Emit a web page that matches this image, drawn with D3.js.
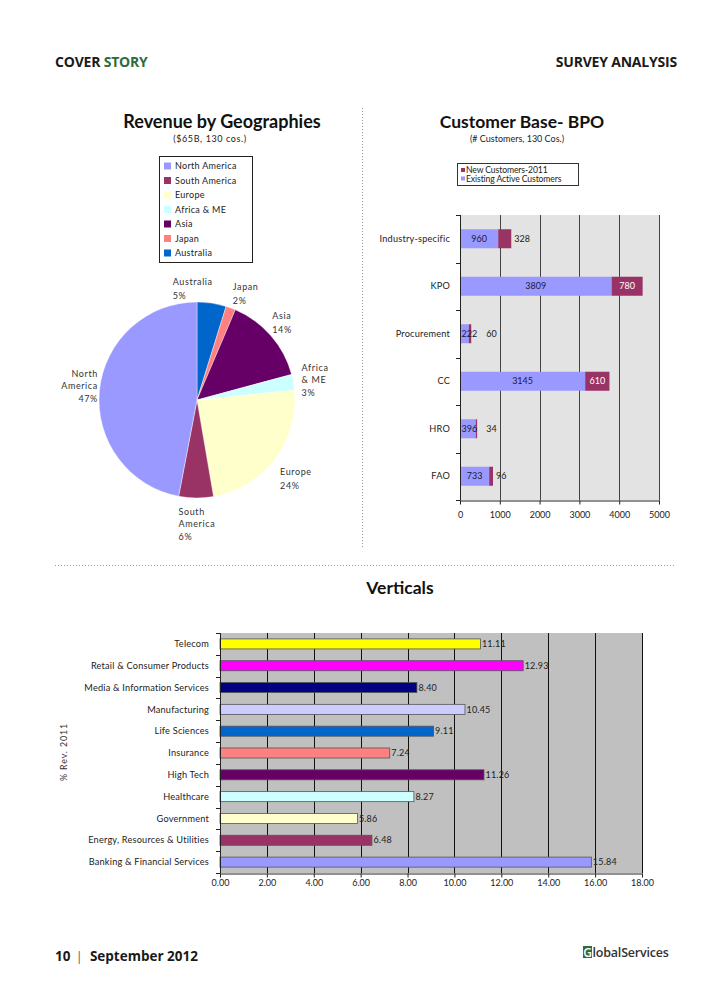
<!DOCTYPE html>
<html><head><meta charset="utf-8">
<script src="https://cdn.jsdelivr.net/npm/d3@7"></script>
<style>
body{margin:0;background:#fff}
svg{display:block}
text{font-family:Lato,"Open Sans",sans-serif;fill:#222}
</style>
</head><body>
<svg id="c" width="728" height="988"></svg>
<script>
// ---------- DATA ----------
const geoRegions = ["North America","South America","Europe","Africa & ME","Asia","Japan","Australia"];
const geoColors  = ["#9999ff","#993366","#ffffcc","#ccffff","#660066","#ff8080","#0066cc"];
const pieOrder   = ["Australia","Japan","Asia","Africa & ME","Europe","South America","North America"];
const pieShares  = [4.8, 1.6, 14.4, 2.6, 23.9, 5.7, 47.0];
const pieLabelLines = [["Australia"],["Japan"],["Asia"],["Africa","& ME"],["Europe"],["South","America"],["North","America"]];

const bpoCategories = ["Industry-specific","KPO","Procurement","CC","HRO","FAO"];
const bpoExisting   = [960, 3809, 222, 3145, 396, 733];
const bpoNew        = [328, 780, 60, 610, 34, 96];
const bpoTicks      = [0, 1000, 2000, 3000, 4000, 5000];
const bpoSeries     = ["New Customers-2011","Existing Active Customers"];

const verticals = ["Telecom","Retail & Consumer Products","Media & Information Services","Manufacturing","Life Sciences","Insurance","High Tech","Healthcare","Government","Energy, Resources & Utilities","Banking & Financial Services"];
const verticalShares = [11.11, 12.93, 8.40, 10.45, 9.11, 7.24, 11.26, 8.27, 5.86, 6.48, 15.84];
const verticalColors = ["#ffff00","#ff00ff","#000080","#ccccff","#0066cc","#ff8080","#660066","#ccffff","#ffffcc","#993366","#9999ff"];
const verticalTicks = [0, 2, 4, 6, 8, 10, 12, 14, 16, 18];

// ---------- DRAW ----------
const svg = d3.select("#c");
const hf = "'Open Sans',Lato,sans-serif";

// header
const h1 = svg.append("text").attr("x",55).attr("y",67).style("font-family",hf).style("font-weight",700).style("font-size","14px").style("letter-spacing","-0.2px");
h1.append("tspan").text("COVER ").style("fill","#1a1a1a");
h1.append("tspan").text("STORY").style("fill","#2f6b3c");
svg.append("text").attr("x",677).attr("y",67).attr("text-anchor","end").style("font-family",hf).style("font-weight",700).style("font-size","14px").style("letter-spacing","-0.2px").style("fill","#1a1a1a").text("SURVEY ANALYSIS");

// separators
svg.append("line").attr("x1",362.5).attr("x2",362.5).attr("y1",108).attr("y2",548).attr("stroke","#999").attr("stroke-dasharray","1,2");
svg.append("line").attr("x1",55).attr("x2",675).attr("y1",565.5).attr("y2",565.5).attr("stroke","#999").attr("stroke-dasharray","1,2");

// ---------- PIE ----------
svg.append("text").attr("x",222).attr("y",128).attr("text-anchor","middle").style("font-weight",700).style("font-size","18px").style("fill","#111").text("Revenue by Geographies");
svg.append("text").attr("x",210).attr("y",142).attr("text-anchor","middle").style("font-size","9px").style("letter-spacing","0.6px").text("($65B, 130 cos.)");

const color = d3.scaleOrdinal().domain(geoRegions).range(geoColors);
const lg = svg.append("g");
lg.append("rect").attr("x",159.5).attr("y",156.5).attr("width",93).attr("height",106).attr("fill","#fff").attr("stroke","#222");
geoRegions.forEach((r,i)=>{
  const yy = 166 + i*14.5;
  lg.append("rect").attr("x",164).attr("y",yy-3.5).attr("width",7).attr("height",7).attr("fill",color(r));
  lg.append("text").attr("x",175).attr("y",yy).attr("dy","0.35em").style("font-size","9px").style("letter-spacing","0.3px").text(r);
});

const cx = 197, cy = 400, R = 98;
const pieData = pieOrder.map((n,i)=>({name:n, value:pieShares[i], lines:pieLabelLines[i]}));
const arcs = d3.pie().sort(null).value(d=>d.value)(pieData);
const arc = d3.arc().innerRadius(0).outerRadius(R);
const labelArc = d3.arc().innerRadius(118).outerRadius(118);
const pg = svg.append("g").attr("transform",`translate(${cx},${cy})`);
pg.selectAll("path").data(arcs).join("path").attr("d",arc).attr("fill",d=>color(d.data.name)).attr("stroke","#fff").attr("stroke-width",0.4);
const total = d3.sum(pieShares);
const nudge = {"Australia":[-22,6],"Japan":[8,5],"Asia":[-4,1],"Africa & ME":[2,2],"Europe":[5,8],"South America":[1,7],"North America":[0,-2]};
arcs.forEach(d=>{
  const [lx,ly] = labelArc.centroid(d);
  const lines = d.data.lines.concat([Math.round(d.data.value/total*100)+"%"]);
  const step = lines.length>2 ? 12.5 : 14;
  const t = pg.append("text").style("font-size","9px").style("letter-spacing","0.6px").style("fill","#333");
  lines.forEach((l,i)=>t.append("tspan").attr("x",0).attr("dy", i===0?0:step).text(l));
  const bb = t.node().getBBox();
  const nd = nudge[d.data.name];
  const right = d.data.name==="North America";
  if(right) t.attr("text-anchor","end");
  const bx = right ? lx + bb.width/2 + nd[0] : lx - bb.width/2 + nd[0];
  const by = ly - (bb.height)/2 + 8 + nd[1];
  t.attr("transform",`translate(${bx},${by})`);
});

// ---------- BPO ----------
svg.append("text").attr("x",522).attr("y",128).attr("text-anchor","middle").style("font-weight",700).style("font-size","17.5px").style("fill","#111").text("Customer Base- BPO");
svg.append("text").attr("x",517).attr("y",142).attr("text-anchor","middle").style("font-size","9px").text("(# Customers, 130 Cos.)");

const bl = svg.append("g");
bl.append("rect").attr("x",457.5).attr("y",163.5).attr("width",121).attr("height",22).attr("fill","#fff").attr("stroke","#333");
const bpoColors = ["#993366","#9999ff"];
bpoSeries.forEach((s,i)=>{
  const yy = 170 + i*8.5;
  bl.append("rect").attr("x",461).attr("y",yy-2).attr("width",4).attr("height",4).attr("fill",bpoColors[i]);
  bl.append("text").attr("x",466).attr("y",yy).attr("dy","0.35em").style("font-size","8.6px").style("letter-spacing","-0.1px").text(s);
});

const bx = d3.scaleLinear().domain([0,5000]).range([460,659]);
const by = d3.scaleBand().domain(bpoCategories).range([215,500]).paddingInner(0.6).paddingOuter(0.3);
svg.append("rect").attr("x",bx(0)).attr("y",215).attr("width",bx(5000)-bx(0)).attr("height",285).attr("fill","#e3e3e3");
svg.append("g").selectAll("line").data(bpoTicks.slice(1)).join("line")
  .attr("x1",d=>Math.round(bx(d))+0.5).attr("x2",d=>Math.round(bx(d))+0.5).attr("y1",215).attr("y2",500).attr("stroke","#444").attr("stroke-width",1);
const bars = svg.append("g");
bpoCategories.forEach((c,i)=>{
  const y0 = by(c), h = by.bandwidth();
  bars.append("rect").attr("x",bx(0)).attr("y",y0).attr("width",bx(bpoExisting[i])-bx(0)).attr("height",h).attr("fill","#9999ff");
  bars.append("rect").attr("x",bx(bpoExisting[i])).attr("y",y0).attr("width",bx(bpoExisting[i]+bpoNew[i])-bx(bpoExisting[i])).attr("height",h).attr("fill","#993366");
  const cxE = (bx(0)+bx(bpoExisting[i]))/2;
  const tE = bars.append("text").attr("y",y0+h/2).attr("dy","0.35em").attr("text-anchor","middle").style("font-size","9px").style("fill","#1a1a40").text(bpoExisting[i]);
  const wE = tE.node().getComputedTextLength();
  const xE = Math.max(cxE, bx(0)+wE/2+1.5);
  tE.attr("x",xE);
  const segW = bx(bpoExisting[i]+bpoNew[i])-bx(bpoExisting[i]);
  if(segW>22){
    bars.append("text").attr("x",(bx(bpoExisting[i])+bx(bpoExisting[i]+bpoNew[i]))/2).attr("y",y0+h/2).attr("dy","0.35em").attr("text-anchor","middle").style("font-size","9px").style("fill","#fff").text(bpoNew[i]);
  } else {
    const xN = Math.max(bx(bpoExisting[i]+bpoNew[i])+3, xE + wE/2 + 9);
    bars.append("text").attr("x",xN).attr("y",y0+h/2).attr("dy","0.35em").style("font-size","9px").text(bpoNew[i]);
  }
  svg.append("text").attr("x",450).attr("y",y0+h/2).attr("dy","0.35em").attr("text-anchor","end").style("font-size","9.2px").style("letter-spacing","0.2px").text(c);
});
svg.append("line").attr("x1",460.5).attr("x2",460.5).attr("y1",215).attr("y2",500).attr("stroke","#222");
svg.append("g").selectAll("line").data(d3.range(bpoCategories.length+1)).join("line")
  .attr("x1",456).attr("x2",460.5).attr("y1",i=>Math.round(215+i*by.step())+0.5).attr("y2",i=>Math.round(215+i*by.step())+0.5).attr("stroke","#222");
const bAx = svg.append("g").attr("transform","translate(0,500.5)")
  .call(d3.axisBottom(bx).tickValues(bpoTicks).tickSize(4).tickSizeOuter(0).tickFormat(d3.format("d")));
bAx.select(".domain").attr("stroke","#222");
bAx.selectAll(".tick line").attr("stroke","#222");
bAx.selectAll("text").style("font-size","9px").style("font-family","Lato,sans-serif").attr("fill","#222").attr("dy","1.15em");

// ---------- VERTICALS ----------
svg.append("text").attr("x",400).attr("y",594).attr("text-anchor","middle").style("font-weight",700).style("font-size","17.5px").style("fill","#111").text("Verticals");
const vx = d3.scaleLinear().domain([0,18]).range([220,642]);
const vy = d3.scaleBand().domain(verticals).range([633,873]).paddingInner(0.54).paddingOuter(0.27);
svg.append("rect").attr("x",vx(0)).attr("y",633).attr("width",vx(18)-vx(0)).attr("height",240).attr("fill","#c0c0c0");
svg.append("g").selectAll("line").data(verticalTicks.slice(1)).join("line")
  .attr("x1",d=>Math.round(vx(d))+0.5).attr("x2",d=>Math.round(vx(d))+0.5).attr("y1",633).attr("y2",873).attr("stroke","#111");
const vbars = svg.append("g");
verticals.forEach((c,i)=>{
  const y0 = vy(c), h = vy.bandwidth();
  vbars.append("rect").attr("x",vx(0)).attr("y",y0).attr("width",vx(verticalShares[i])-vx(0)).attr("height",h).attr("fill",verticalColors[i]).attr("stroke","#555").attr("stroke-width",0.8);
  vbars.append("text").attr("x",vx(verticalShares[i])+1.5).attr("y",y0+h/2).attr("dy","0.35em").style("font-size","9px").style("letter-spacing","0.2px").text(d3.format(".2f")(verticalShares[i]));
  svg.append("text").attr("x",209).attr("y",y0+h/2).attr("dy","0.35em").attr("text-anchor","end").style("font-size","9.2px").style("letter-spacing","0.2px").text(c);
});
svg.append("line").attr("x1",220.5).attr("x2",220.5).attr("y1",633).attr("y2",873).attr("stroke","#222");
svg.append("g").selectAll("line").data(d3.range(verticals.length+1)).join("line")
  .attr("x1",216).attr("x2",220.5).attr("y1",i=>Math.round(633+i*vy.step())+0.5).attr("y2",i=>Math.round(633+i*vy.step())+0.5).attr("stroke","#222");
const vAx = svg.append("g").attr("transform","translate(0,873.5)")
  .call(d3.axisBottom(vx).tickValues(verticalTicks).tickSize(4).tickSizeOuter(0).tickFormat(d3.format(".2f")));
vAx.select(".domain").attr("stroke","#222");
vAx.selectAll(".tick line").attr("stroke","#222");
vAx.selectAll("text").style("font-size","9px").style("font-family","Lato,sans-serif").attr("fill","#222").attr("dy","0.6em");
svg.append("text").attr("transform","translate(67,752) rotate(-90)").attr("text-anchor","middle").style("font-size","8.8px").style("letter-spacing","0.9px").style("fill","#333").text("% Rev. 2011");

// ---------- FOOTER ----------
const ft = svg.append("text").attr("x",55).attr("y",961).style("font-family",hf).style("font-weight",700).style("font-size","13.5px").style("fill","#1a1a1a");
ft.append("tspan").text("10");
ft.append("tspan").attr("dx",5).style("font-weight",400).style("fill","#666").text("|");
ft.append("tspan").attr("dx",7).text("September 2012");
const gsx = 583;
svg.append("rect").attr("x",gsx).attr("y",946).attr("width",9).attr("height",12).attr("fill","#2f6b3c");
svg.append("text").attr("x",gsx+4.5).attr("y",956.5).attr("text-anchor","middle").style("font-family",hf).style("font-weight",600).style("font-size","12px").style("fill","#fff").text("G");
svg.append("text").attr("x",gsx+9.5).attr("y",957).style("font-family",hf).style("font-weight",600).style("font-size","12.5px").style("letter-spacing","-0.2px").style("fill","#333").text("lobalServices");
</script>
</body></html>
